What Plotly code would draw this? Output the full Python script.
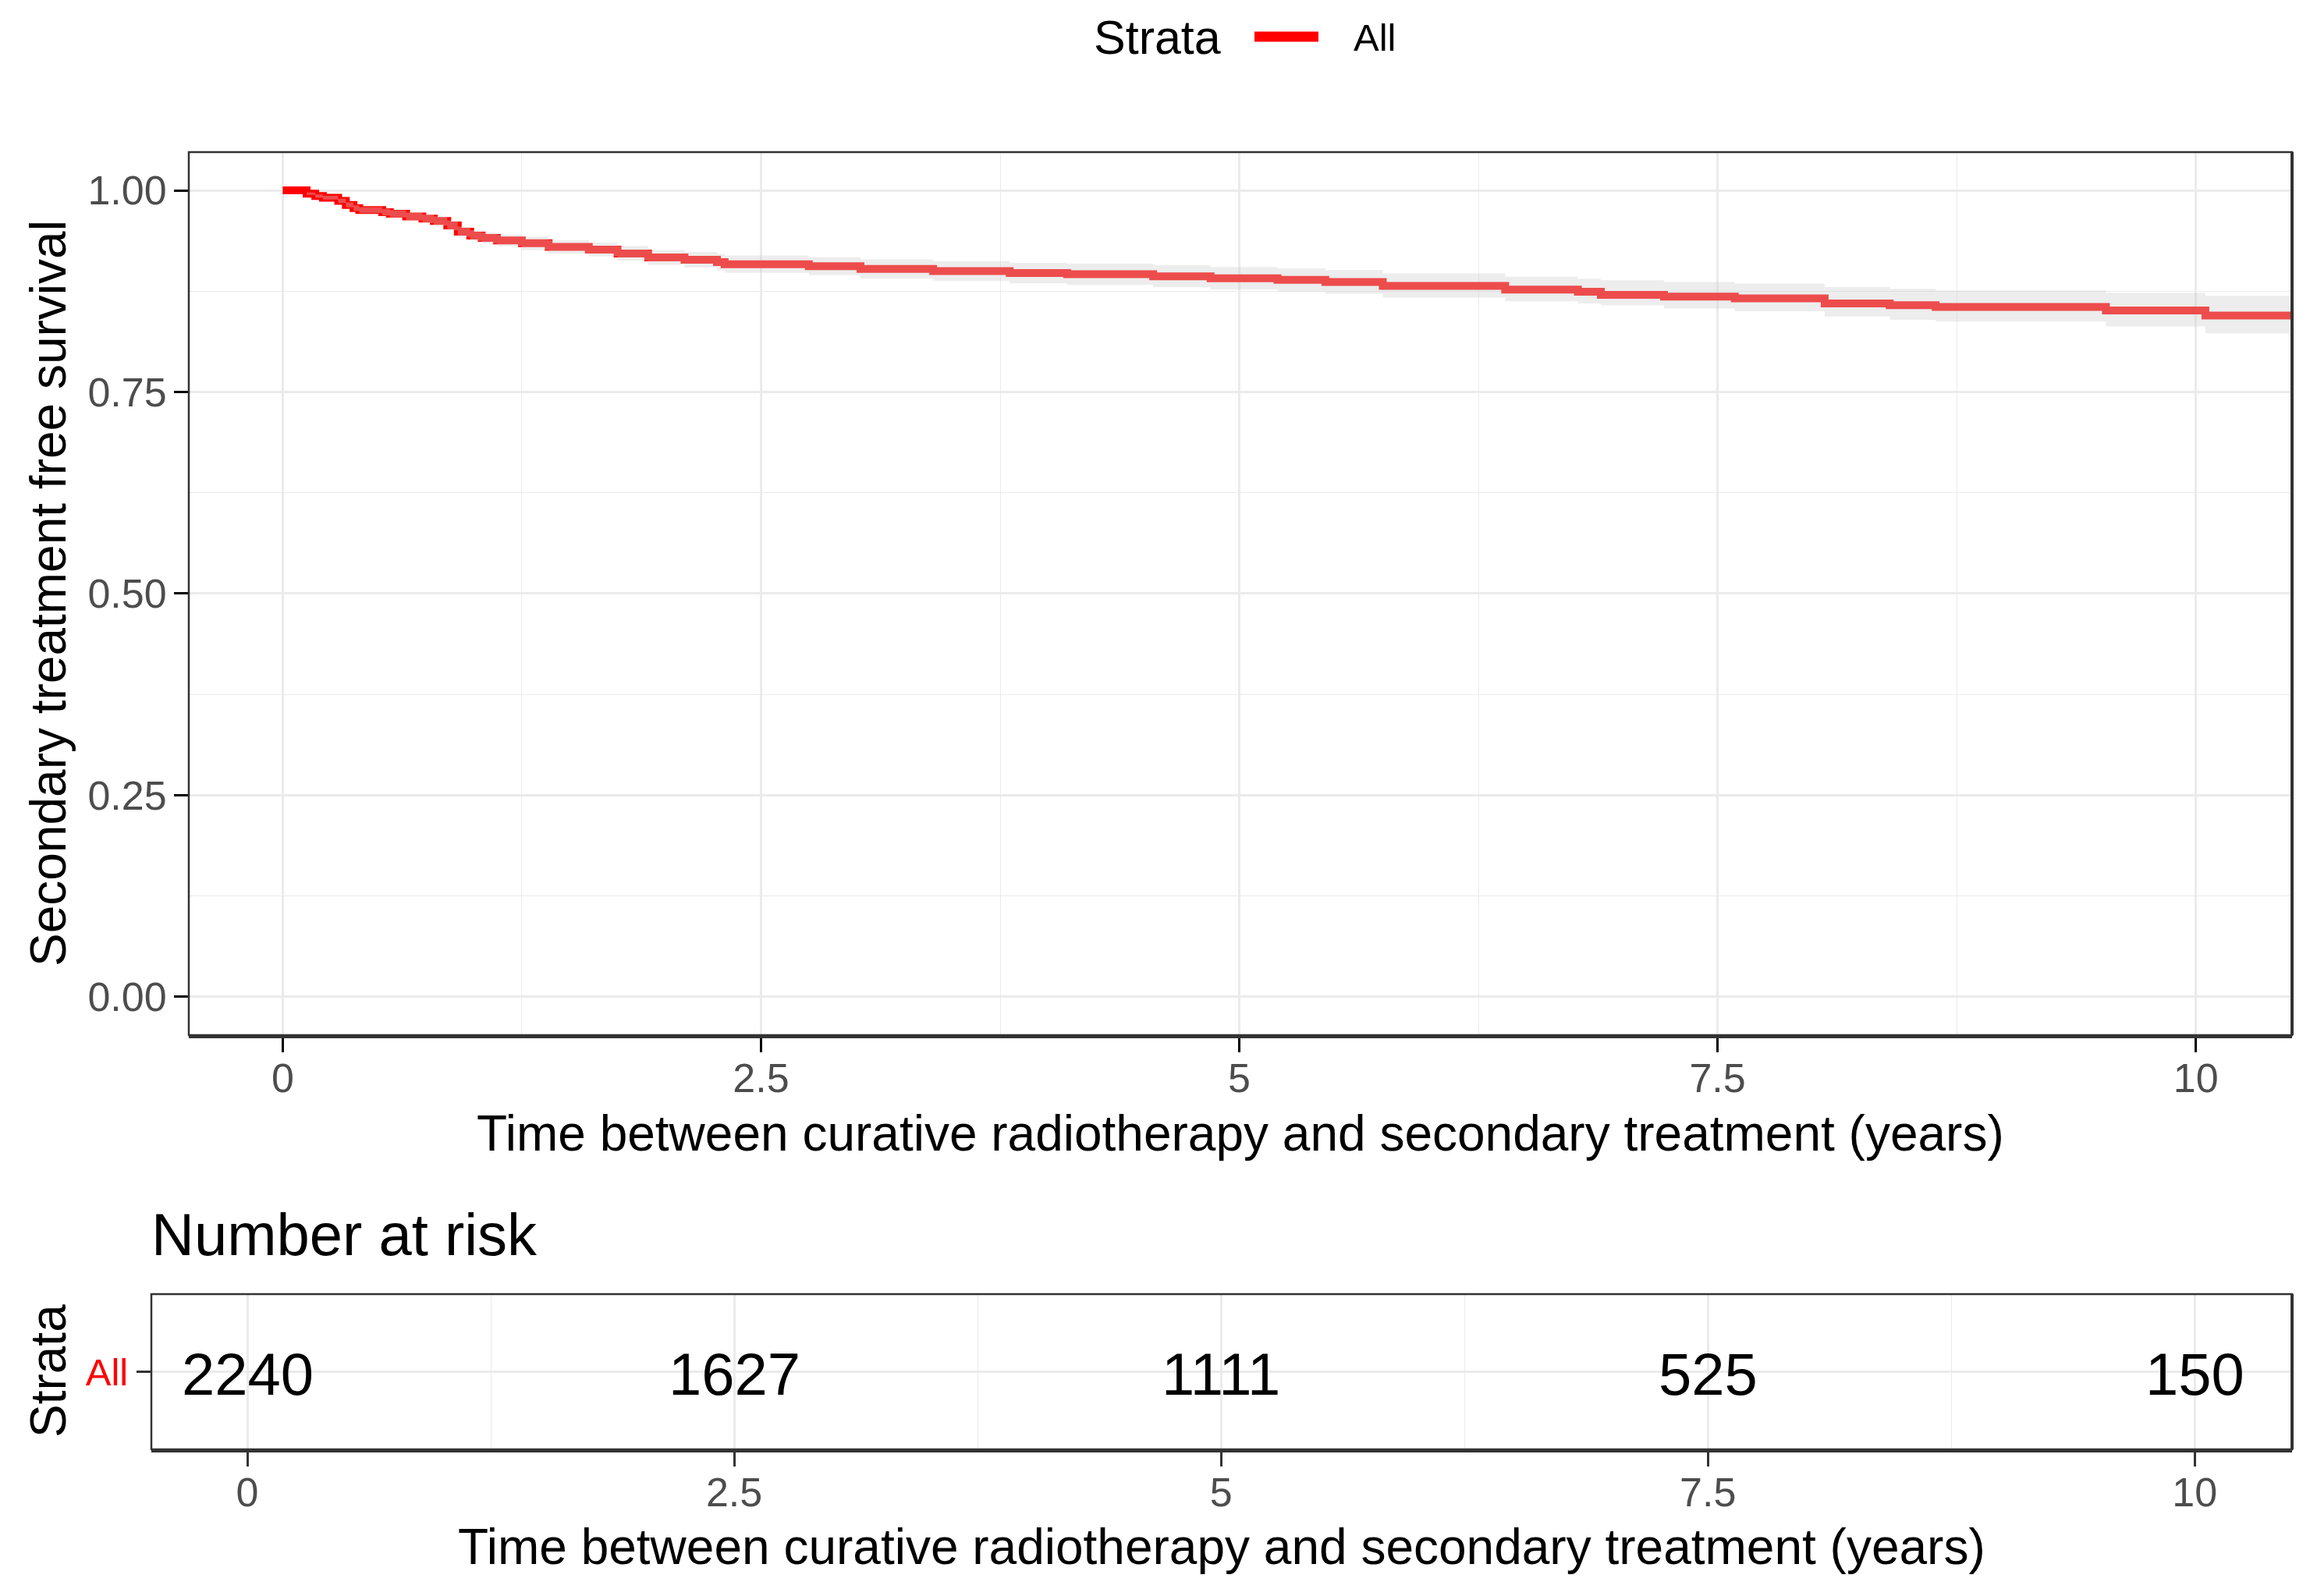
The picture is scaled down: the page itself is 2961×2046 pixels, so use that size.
import plotly.graph_objects as go

# ---------------- data ----------------
times = [0.000, 0.125, 0.170, 0.210, 0.290, 0.330, 0.370, 0.400, 0.520, 0.560,
         0.645, 0.730, 0.790, 0.860, 0.915, 0.980, 1.040, 1.120, 1.250, 1.390,
         1.600, 1.750, 1.910, 2.100, 2.270, 2.310, 2.750, 3.020, 3.400, 3.800,
         4.100, 4.550, 4.850, 5.200, 5.450, 5.750, 6.390, 6.770, 6.890, 7.220,
         7.590, 8.060, 8.400, 8.640, 9.530, 10.050, 10.500]
surv = [1.0000, 0.9960, 0.9930, 0.9910, 0.9870, 0.9820, 0.9780, 0.9756, 0.9730, 0.9710,
        0.9677, 0.9650, 0.9620, 0.9566, 0.9487, 0.9440, 0.9410, 0.9380, 0.9345, 0.9300,
        0.9266, 0.9218, 0.9170, 0.9140, 0.9110, 0.9085, 0.9060, 0.9025, 0.9000, 0.8975,
        0.8960, 0.8935, 0.8910, 0.8890, 0.8865, 0.8816, 0.8771, 0.8744, 0.8705, 0.8683,
        0.8660, 0.8599, 0.8577, 0.8554, 0.8512, 0.8447, 0.8447]
lower = [1.0000, 0.9945, 0.9910, 0.9887, 0.9843, 0.9790, 0.9745, 0.9718, 0.9688, 0.9665,
         0.9628, 0.9598, 0.9564, 0.9506, 0.9424, 0.9374, 0.9342, 0.9308, 0.9262, 0.9215,
         0.9180, 0.9128, 0.9078, 0.9042, 0.9008, 0.8978, 0.8948, 0.8905, 0.8876, 0.8848,
         0.8828, 0.8798, 0.8770, 0.8746, 0.8718, 0.8670, 0.8625, 0.8599, 0.8573, 0.8535,
         0.8502, 0.8435, 0.8396, 0.8374, 0.8312, 0.8229, 0.8229]
upper = [1.0000, 0.9975, 0.9950, 0.9933, 0.9897, 0.9850, 0.9815, 0.9794, 0.9772, 0.9755,
         0.9726, 0.9702, 0.9676, 0.9626, 0.9550, 0.9506, 0.9478, 0.9452, 0.9428, 0.9385,
         0.9352, 0.9308, 0.9262, 0.9238, 0.9212, 0.9192, 0.9172, 0.9145, 0.9124, 0.9102,
         0.9092, 0.9072, 0.9050, 0.9034, 0.9012, 0.8970, 0.8930, 0.8905, 0.8886, 0.8863,
         0.8844, 0.8802, 0.8780, 0.8760, 0.8731, 0.8693, 0.8693]

risk_times = [0, 2.5, 5, 7.5, 10]
risk_counts = [2240, 1627, 1111, 525, 150]
strata = ["All"]

x_tickvals = [0, 2.5, 5, 7.5, 10]
x_ticktext = ["0", "2.5", "5", "7.5", "10"]
x_minor = [1.25, 3.75, 6.25, 8.75]
y_tickvals = [0, 0.25, 0.5, 0.75, 1.0]
y_ticktext = ["0.00", "0.25", "0.50", "0.75", "1.00"]
y_minor = [0.125, 0.375, 0.625, 0.875]

# ---------------- layout helpers ----------------
W, H = 2961, 2046
FONT = "Liberation Sans, Arial, sans-serif"
RED = "#FF0000"


def px(x):
    return x / W


def py(y):
    return 1 - y / H


fig = go.Figure()

# survival curve
fig.add_trace(go.Scatter(x=times, y=surv, mode="lines", line=dict(color=RED, width=10, shape="hv"),
                         xaxis="x", yaxis="y", hoverinfo="skip", showlegend=False))
# confidence ribbon (drawn above the line, translucent grey)
fig.add_trace(go.Scatter(x=times, y=lower, mode="lines", line=dict(width=0, shape="hv", color="rgba(0,0,0,0)"),
                         xaxis="x", yaxis="y", hoverinfo="skip", showlegend=False))
fig.add_trace(go.Scatter(x=times, y=upper, mode="lines", line=dict(width=0, shape="hv", color="rgba(0,0,0,0)"),
                         fill="tonexty", fillcolor="rgba(205,205,205,0.37)",
                         xaxis="x", yaxis="y", hoverinfo="skip", showlegend=False))

grid = "#EBEBEB"
tickfont = dict(family=FONT, size=52, color="#4D4D4D")

common_x = dict(tickmode="array", tickvals=x_tickvals, ticktext=x_ticktext,
                ticks="outside", ticklen=18, tickwidth=2.5, ticklabelstandoff=-11,
                tickfont=tickfont, showgrid=True, gridcolor=grid, gridwidth=2.7,
                minor=dict(tickmode="array", tickvals=x_minor, showgrid=True, gridcolor=grid,
                           gridwidth=1.3, ticks=""),
                zeroline=False, showline=True, linecolor="#333333", linewidth=4,
                automargin=False, fixedrange=True)

fig.update_layout(
    width=W, height=H, autosize=False,
    template="none",
    margin=dict(l=0, r=0, t=0, b=0, pad=0),
    paper_bgcolor="white", plot_bgcolor="white",
    showlegend=False,
    font=dict(family=FONT, color="black"),
    xaxis=dict(domain=[px(242), px(2938)], range=[-0.491, 10.503], anchor="y",
               tickcolor="black", **common_x),
    yaxis=dict(domain=[py(1327), py(195)], range=[-0.0477, 1.0475], anchor="x",
               tickmode="array", tickvals=y_tickvals, ticktext=y_ticktext,
               ticks="outside", ticklen=18, tickwidth=2.5, tickcolor="black",
               tickfont=tickfont, ticklabelstandoff=-1,
               showgrid=True, gridcolor=grid, gridwidth=2.7,
               minor=dict(tickmode="array", tickvals=y_minor, showgrid=True, gridcolor=grid,
                          gridwidth=1.3, ticks=""),
               zeroline=False, showline=False, automargin=False, fixedrange=True),
    xaxis2=dict(domain=[px(194), px(2938)], range=[-0.493, 10.50], anchor="y2",
                tickcolor="#333333", **common_x),
    yaxis2=dict(domain=[py(1858), py(1659)], type="category", categoryorder="array",
                categoryarray=strata, range=[-0.6, 0.6], anchor="x2",
                ticks="outside", ticklen=18, tickwidth=2.5, tickcolor="#333333",
                tickfont=dict(family=FONT, size=49, color=RED), ticklabelstandoff=1,
                showgrid=True, gridcolor=grid, gridwidth=2.7,
                zeroline=False, showline=False, automargin=False, fixedrange=True),
)

# panel borders
for xr, yr in (("x", "y"), ("x2", "y2")):
    fig.add_shape(type="rect", xref=f"{xr} domain", yref=f"{yr} domain", x0=0, x1=1, y0=0, y1=1,
                  line=dict(color="#333333", width=2.5), layer="above")
    fig.add_shape(type="line", xref=f"{xr} domain", yref=f"{yr} domain", x0=1, x1=1, y0=0, y1=1,
                  line=dict(color="#333333", width=4), layer="above")

ann = []
# risk table numbers, placed on the risk-table axes
for t, n in zip(risk_times, risk_counts):
    ann.append(dict(text=str(n), x=t, y=strata[0], xref="x2", yref="y2", yshift=-3,
                    font=dict(size=76, color="black", family=FONT)))
# titles
ann.append(dict(text="Secondary treatment free survival", x=px(62), y=py(761), textangle=-90,
                font=dict(size=64, color="black", family=FONT)))
ann.append(dict(text="Time between curative radiotherapy and secondary treatment (years)",
                x=px(1590), y=py(1453), font=dict(size=64, color="black", family=FONT)))
ann.append(dict(text="Number at risk", x=px(192), y=py(1582), xanchor="left",
                font=dict(size=76, color="black", family=FONT)))
ann.append(dict(text="Strata", x=px(62), y=py(1758), textangle=-90,
                font=dict(size=64, color="black", family=FONT)))
ann.append(dict(text="Time between curative radiotherapy and secondary treatment (years)",
                x=px(1566), y=py(1983), font=dict(size=64, color="black", family=FONT)))
# legend (manual)
ann.append(dict(text="Strata", x=px(1400), y=py(48), xanchor="left",
                font=dict(size=61, color="black", family=FONT)))
ann.append(dict(text="All", x=px(1733), y=py(48), xanchor="left",
                font=dict(size=49, color="black", family=FONT)))
for a in ann:
    a.setdefault("xanchor", "center")
    a.setdefault("yanchor", "middle")
    a.setdefault("xref", "paper")
    a.setdefault("yref", "paper")
    a["showarrow"] = False
fig.update_layout(annotations=ann)
fig.add_shape(type="line", xref="paper", yref="paper", x0=px(1608), x1=px(1690), y0=py(47), y1=py(47),
              line=dict(color=RED, width=13))

fig.write_html("out.html", config={"displayModeBar": False},
               post_script="document.body.style.margin='0';document.body.style.padding='0';")
